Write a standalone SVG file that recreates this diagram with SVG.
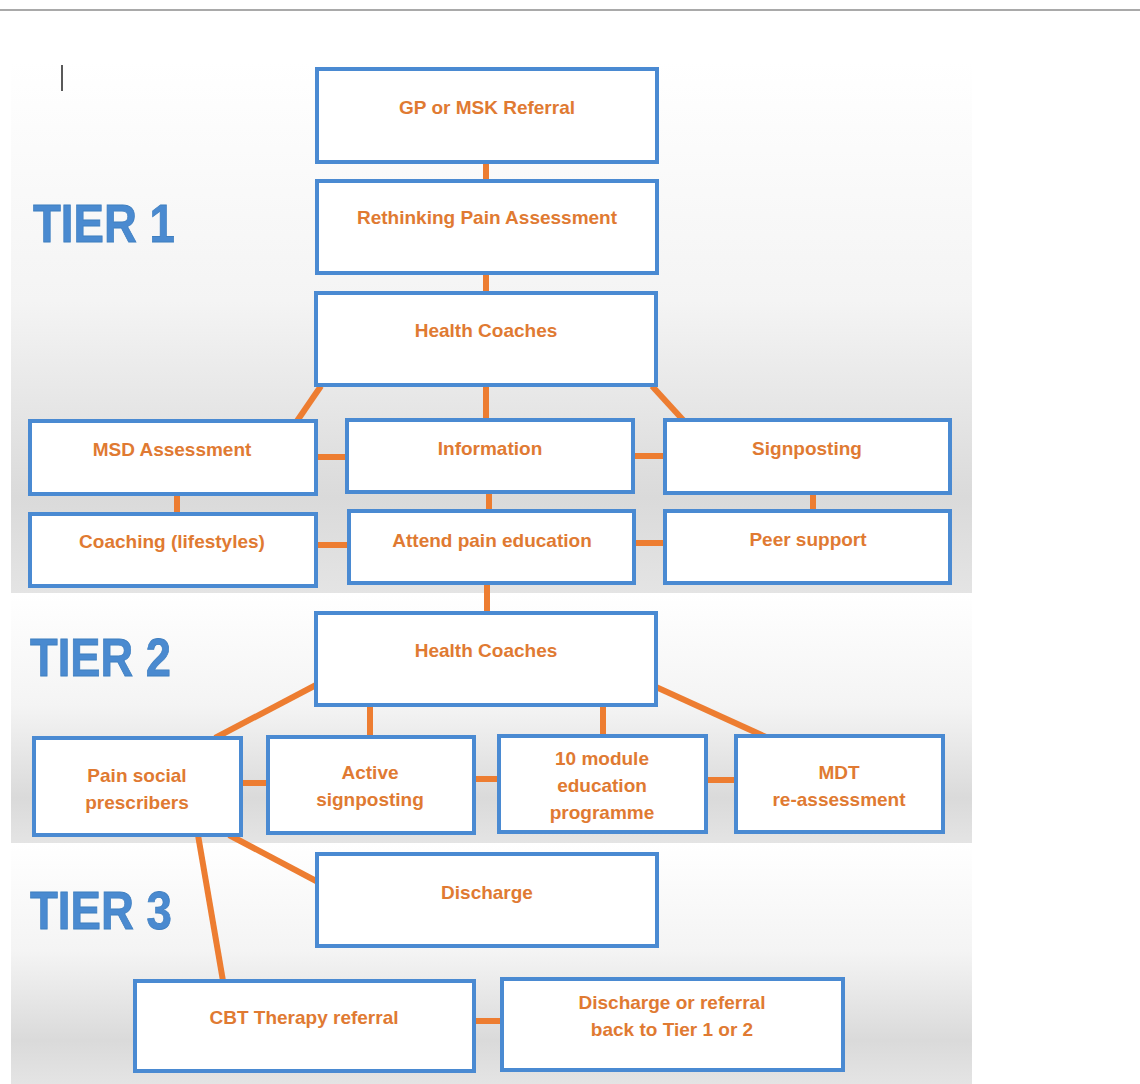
<svg xmlns="http://www.w3.org/2000/svg" width="1140" height="1084" viewBox="0 0 1140 1084">
<style>
.box{fill:#ffffff;stroke:#4a8ad2;stroke-width:4}
.lbl{font-family:"Liberation Sans",Arial,sans-serif;font-weight:bold;font-size:19px;fill:#e07a32;text-anchor:middle}
.tier{font-family:"Liberation Sans",Arial,sans-serif;font-weight:bold;font-size:54px;fill:#4a8ad0;stroke:#3f7fc0;stroke-width:0.8}
.con{stroke:#ed7d31;stroke-width:6;fill:none}
</style>
<defs>
<linearGradient id="bg" x1="0" y1="0" x2="0" y2="1">
<stop offset="0" stop-color="#ffffff"/>
<stop offset="0.45" stop-color="#f4f4f4"/>
<stop offset="0.82" stop-color="#dadada"/>
<stop offset="1" stop-color="#e4e4e4"/>
</linearGradient>
</defs>
<rect x="0" y="0" width="1140" height="1084" fill="#ffffff"/>
<line x1="0" y1="10" x2="1140" y2="10" stroke="#8c8c8c" stroke-width="1.5"/>
<g id="panels">
<rect x="11" y="62" width="961" height="531" fill="url(#bg)"/>
<rect x="11" y="593" width="961" height="250" fill="url(#bg)"/>
<rect x="11" y="843" width="961" height="241" fill="url(#bg)"/>
</g>
<line x1="62" y1="65" x2="62" y2="91" stroke="#222" stroke-width="1.5"/>
<g id="tiers">
<text class="tier" x="33" y="242" textLength="142" lengthAdjust="spacingAndGlyphs">TIER 1</text>
<text class="tier" x="30" y="676" textLength="141" lengthAdjust="spacingAndGlyphs">TIER 2</text>
<text class="tier" x="30" y="929" textLength="142" lengthAdjust="spacingAndGlyphs">TIER 3</text>
</g>
<g id="connectors">
<line class="con" x1="486" y1="162" x2="486" y2="181"/>
<line class="con" x1="486" y1="273" x2="486" y2="293"/>
<line class="con" x1="321" y1="386" x2="297" y2="421"/>
<line class="con" x1="486" y1="385" x2="486" y2="420"/>
<line class="con" x1="652" y1="386" x2="684" y2="421"/>
<line class="con" x1="316" y1="457" x2="347" y2="457"/>
<line class="con" x1="633" y1="456" x2="665" y2="456"/>
<line class="con" x1="177" y1="494" x2="177" y2="514"/>
<line class="con" x1="489" y1="492" x2="489" y2="511"/>
<line class="con" x1="813" y1="493" x2="813" y2="511"/>
<line class="con" x1="316" y1="545" x2="349" y2="545"/>
<line class="con" x1="634" y1="543" x2="665" y2="543"/>
<line class="con" x1="487" y1="583" x2="487" y2="613"/>
<line class="con" x1="316" y1="685" x2="215" y2="738"/>
<line class="con" x1="370" y1="705" x2="370" y2="737"/>
<line class="con" x1="603" y1="705" x2="603" y2="736"/>
<line class="con" x1="656" y1="687" x2="766" y2="737"/>
<line class="con" x1="241" y1="783" x2="268" y2="783"/>
<line class="con" x1="474" y1="779" x2="499" y2="779"/>
<line class="con" x1="706" y1="780" x2="736" y2="780"/>
<line class="con" x1="229" y1="835" x2="318" y2="882"/>
<line class="con" x1="198" y1="835" x2="223" y2="981"/>
<line class="con" x1="474" y1="1021" x2="502" y2="1021"/>
</g>
<g id="n1"><rect class="box" x="317" y="69" width="340" height="93"/><text class="lbl" x="487" y="114">GP or MSK Referral</text></g>
<g id="n2"><rect class="box" x="317" y="181" width="340" height="92"/><text class="lbl" x="487" y="224">Rethinking Pain Assessment</text></g>
<g id="n3"><rect class="box" x="316" y="293" width="340" height="92"/><text class="lbl" x="486" y="337">Health Coaches</text></g>
<g id="n4"><rect class="box" x="30" y="421" width="286" height="73"/><text class="lbl" x="172" y="456">MSD Assessment</text></g>
<g id="n5"><rect class="box" x="347" y="420" width="286" height="72"/><text class="lbl" x="490" y="455">Information</text></g>
<g id="n6"><rect class="box" x="665" y="420" width="285" height="73"/><text class="lbl" x="807" y="455">Signposting</text></g>
<g id="n7"><rect class="box" x="30" y="514" width="286" height="72"/><text class="lbl" x="172" y="548">Coaching (lifestyles)</text></g>
<g id="n8"><rect class="box" x="349" y="511" width="285" height="72"/><text class="lbl" x="492" y="547">Attend pain education</text></g>
<g id="n9"><rect class="box" x="665" y="511" width="285" height="72"/><text class="lbl" x="808" y="546">Peer support</text></g>
<g id="n10"><rect class="box" x="316" y="613" width="340" height="92"/><text class="lbl" x="486" y="657">Health Coaches</text></g>
<g id="n11"><rect class="box" x="34" y="738" width="207" height="97"/><text class="lbl" x="137" y="782">Pain social</text><text class="lbl" x="137" y="809">prescribers</text></g>
<g id="n12"><rect class="box" x="268" y="737" width="206" height="96"/><text class="lbl" x="370" y="779">Active</text><text class="lbl" x="370" y="806">signposting</text></g>
<g id="n13"><rect class="box" x="499" y="736" width="207" height="96"/><text class="lbl" x="602" y="765">10 module</text><text class="lbl" x="602" y="792">education</text><text class="lbl" x="602" y="819">programme</text></g>
<g id="n14"><rect class="box" x="736" y="736" width="207" height="96"/><text class="lbl" x="839" y="779">MDT</text><text class="lbl" x="839" y="806">re-assessment</text></g>
<g id="n15"><rect class="box" x="317" y="854" width="340" height="92"/><text class="lbl" x="487" y="899">Discharge</text></g>
<g id="n16"><rect class="box" x="135" y="981" width="339" height="90"/><text class="lbl" x="304" y="1024">CBT Therapy referral</text></g>
<g id="n17"><rect class="box" x="502" y="979" width="341" height="91"/><text class="lbl" x="672" y="1009">Discharge or referral</text><text class="lbl" x="672" y="1036">back to Tier 1 or 2</text></g>
</svg>
